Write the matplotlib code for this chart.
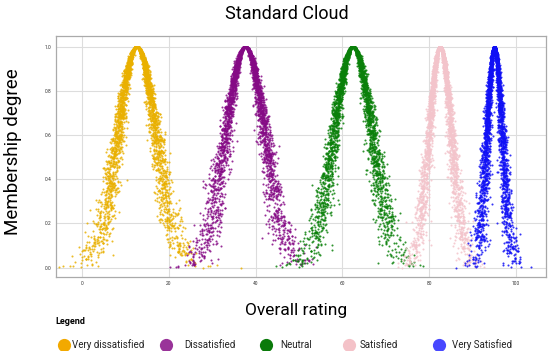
import numpy as np
import matplotlib
matplotlib.use("Agg")
import matplotlib.pyplot as plt
from matplotlib.lines import Line2D

plt.rcParams['font.family'] = ['Roboto', 'DejaVu Sans']

# Cloud model parameters
categories = ["Very dissatisfied", "Dissatisfied", "Neutral", "Satisfied", "Very Satisfied"]
Ex = [12.6, 37.6, 62.4, 82.5, 95.0]
En = [4.4, 4.5, 4.4, 2.6, 1.75]
He = [0.75, 0.75, 0.75, 0.5, 0.45]
n_drops = [3500, 3500, 3500, 3500, 3500]
drop_colors = ["#E9B000", "#850A85", "#0A800A", "#F3C4CB", "#1010F5"]
legend_colors = ["#F2A900", "#993399", "#0A7A0A", "#F4C2C8", "#4848FF"]

x_ticks = [0, 20, 40, 60, 80, 100]
y_ticks = [0.0, 0.2, 0.4, 0.6, 0.8, 1.0]

W, H = 550, 351
fig = plt.figure(figsize=(W / 100, H / 100), dpi=100)
ax = fig.add_axes([56 / W, 1 - 277 / H, (546 - 56) / W, (277 - 36) / H])

rng = np.random.default_rng(7)
for ex, en, he, n, c in zip(Ex, En, He, n_drops, drop_colors):
    en_p = rng.normal(en, he, n)
    x = rng.normal(ex, np.abs(en_p))
    mu = np.exp(-(x - ex) ** 2 / (2 * en_p ** 2))
    ax.scatter(x, mu, s=2.2, color=c, alpha=0.85, linewidths=0, zorder=3)

ax.set_xlim(-6.0, 106.9)
ax.set_ylim(-0.042, 1.048)
ax.set_xticks(x_ticks)
ax.set_yticks(y_ticks)
ax.set_xticklabels([str(t) for t in x_ticks])
ax.set_yticklabels([f"{t:.1f}" for t in y_ticks])
ax.tick_params(labelsize=3.5, length=0, pad=3, colors="#333333")
ax.grid(True, color="#DDDDDD", linewidth=0.8, zorder=0)
ax.set_axisbelow(True)
for sp in ax.spines.values():
    sp.set_color("#AAAAAA")
    sp.set_linewidth(0.9)

fig.text(287 / W, 1 - 14 / H, "Standard Cloud", ha="center", va="center", fontsize=13)
fig.text(13 / W, 1 - 152 / H, "Membership degree", ha="center", va="center",
         rotation=90, fontsize=13.5)
fig.text(296 / W, 1 - 311 / H, "Overall rating", ha="center", va="center", fontsize=12.5)

fig.text(55 / W, 1 - 321 / H, "Legend", ha="left", va="center", fontsize=6.5,
         fontweight="bold")
marker_x = [64, 166, 266, 349, 439]
text_x = [72, 184, 280, 360, 452]
ly = 1 - 345 / H
for mx, tx, c, lab in zip(marker_x, text_x, legend_colors, categories):
    fig.add_artist(Line2D([mx / W], [ly], marker="o", markersize=9.5, color=c,
                          markeredgewidth=0, transform=fig.transFigure))
    fig.text(tx / W, ly, lab, ha="left", va="center", fontsize=7, color="#222222")

fig.savefig("out.png", dpi=100)
